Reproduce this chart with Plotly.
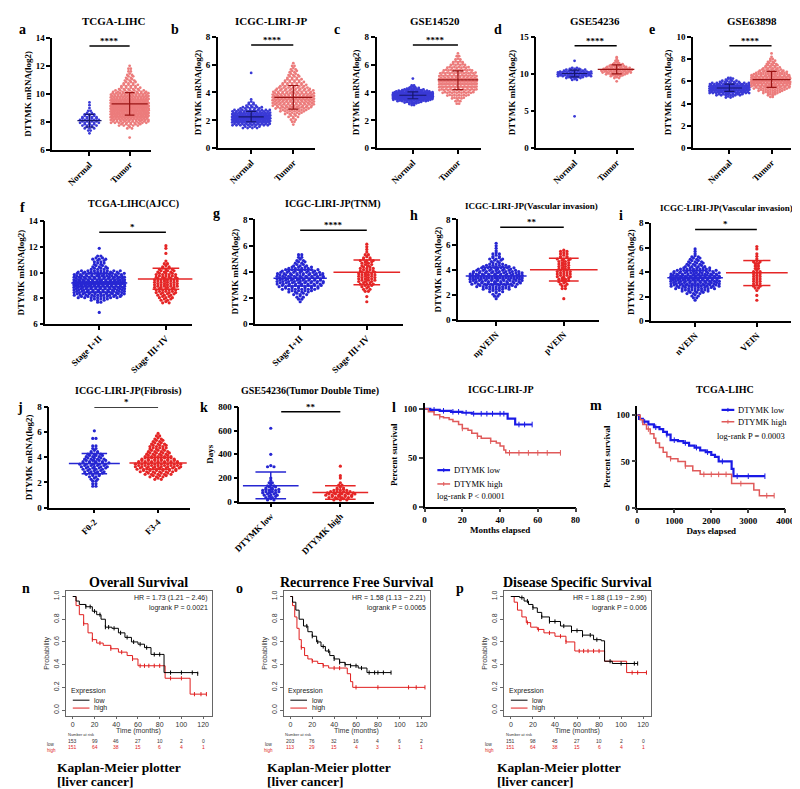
import plotly.graph_objects as go

W, H = 800, 789
SERIF = "Liberation Serif"
SANS = "Liberation Sans"

# ---------------- DATA: dot plots (value levels and number of samples per level) ----------------
a_cats = ["Normal", "Tumor"]
a_n_lv = [7.2, 7.4, 7.6, 7.8, 8.0, 8.2, 8.4, 8.6, 8.8, 9.0, 9.2, 9.4]
a_n_ct = [1, 2, 5, 7, 9, 9, 7, 5, 2, 1, 1, 1]
a_t_lv = [6.9, 7.6, 7.8, 8.0, 8.2, 8.4, 8.6, 8.8, 9.0, 9.2, 9.4, 9.6, 9.8, 10.0, 10.2, 10.4, 10.6, 10.8, 11.0, 11.2, 11.4, 11.6, 11.8, 12.0]
a_t_ct = [1, 3, 10, 20, 25, 30, 32, 34, 35, 35, 33, 30, 26, 22, 15, 10, 8, 6, 5, 4, 3, 2, 2, 1]
a_stats = [(8.1, 7.65, 8.55), (9.3, 8.5, 10.1)]

b_cats = ["Normal", "Tumor"]
b_n_lv = [1.5, 1.7, 1.9, 2.1, 2.3, 2.5, 2.7, 2.9, 3.1, 3.3, 3.5, 5.4]
b_n_ct = [8, 20, 32, 38, 38, 30, 20, 10, 5, 3, 1, 1]
b_t_lv = [1.7, 1.9, 2.1, 2.3, 2.5, 2.7, 2.9, 3.1, 3.3, 3.5, 3.7, 3.9, 4.1, 4.3, 4.5, 4.7, 4.9, 5.1, 5.3, 5.5, 5.7, 5.9, 6.1]
b_t_ct = [1, 2, 3, 5, 8, 12, 16, 20, 22, 24, 24, 22, 18, 15, 12, 10, 8, 6, 5, 4, 3, 2, 1]
b_stats = [(2.25, 1.9, 2.65), (3.65, 2.8, 4.5)]

c_cats = ["Normal", "Tumor"]
c_n_lv = [3.1, 3.2, 3.3, 3.4, 3.5, 3.6, 3.7, 3.8, 3.9, 4.0, 4.1, 4.2, 4.3, 4.4, 4.5, 5.0]
c_n_ct = [2, 4, 8, 14, 20, 26, 30, 30, 28, 22, 15, 10, 6, 3, 2, 1]
c_t_lv = [3.2, 3.4, 3.6, 3.8, 4.0, 4.2, 4.4, 4.6, 4.8, 5.0, 5.2, 5.4, 5.6, 5.8, 6.0, 6.2, 6.4, 6.6, 6.8]
c_t_ct = [2, 3, 6, 10, 14, 18, 20, 22, 22, 21, 19, 16, 13, 10, 7, 5, 3, 2, 1]
c_stats = [(3.8, 3.55, 4.05), (4.9, 4.2, 5.55)]

d_cats = ["Normal", "Tumor"]
d_n_lv = [4.3, 9.25, 9.5, 9.75, 10.0, 10.25, 10.5, 10.75, 11.75]
d_n_ct = [1, 3, 8, 15, 20, 16, 10, 5, 1]
d_t_lv = [9.0, 9.5, 9.75, 10.0, 10.25, 10.5, 10.75, 11.0, 11.25, 11.5, 11.75, 12.0, 12.25]
d_t_ct = [1, 3, 6, 10, 13, 14, 12, 9, 6, 3, 2, 1, 1]
d_stats = [(10.05, 9.6, 10.5), (10.6, 10.0, 11.2)]

e_cats = ["Normal", "Tumor"]
e_n_lv = [4.6, 4.8, 5.0, 5.2, 5.4, 5.6, 5.8, 6.0, 6.2, 6.3]
e_n_ct = [4, 12, 25, 32, 34, 28, 18, 9, 4, 2]
e_t_lv = [4.6, 4.8, 5.0, 5.2, 5.4, 5.6, 5.8, 6.0, 6.2, 6.4, 6.6, 6.8, 7.0, 7.2, 7.4, 7.6, 7.8, 8.0, 8.2, 8.5]
e_t_ct = [2, 4, 8, 12, 16, 20, 24, 26, 25, 22, 18, 14, 11, 8, 6, 5, 4, 2, 1, 1]
e_stats = [(5.4, 5.1, 5.75), (6.15, 5.45, 6.9)]

f_cats = ["Stage I+II", "Stage III+IV"]
f_1_lv = [6.9, 7.7, 7.9, 8.1, 8.3, 8.5, 8.7, 8.9, 9.1, 9.3, 9.5, 9.7, 9.9, 10.1, 10.3, 10.5, 10.7, 10.9, 11.1, 11.3, 11.9]
f_1_ct = [1, 2, 6, 14, 18, 20, 22, 24, 25, 25, 23, 21, 18, 14, 6, 5, 4, 4, 5, 2, 1]
f_2_lv = [7.7, 7.9, 8.1, 8.3, 8.5, 8.7, 8.9, 9.1, 9.3, 9.5, 9.7, 9.9, 10.1, 10.3, 10.5, 10.7, 10.9, 11.5, 11.9, 12.1]
f_2_ct = [3, 4, 5, 6, 7, 7, 8, 8, 8, 8, 7, 7, 6, 5, 3, 2, 1, 1, 1, 1]
f_stats = [(9.2, 8.45, 9.95), (9.5, 8.7, 10.35)]

g_cats = ["Stage I+II", "Stage III+IV"]
g_1_lv = [1.7, 1.9, 2.1, 2.3, 2.5, 2.7, 2.9, 3.1, 3.3, 3.5, 3.7, 3.9, 4.1, 4.3, 4.5, 4.7, 4.9, 5.1, 5.3]
g_1_ct = [1, 2, 3, 5, 8, 12, 14, 16, 17, 18, 17, 15, 12, 8, 5, 4, 3, 2, 2]
g_2_lv = [1.7, 2.1, 2.5, 2.7, 2.9, 3.1, 3.3, 3.5, 3.7, 3.9, 4.1, 4.3, 4.5, 4.7, 4.9, 5.1, 5.3, 5.5, 5.7, 5.9, 6.1]
g_2_ct = [1, 1, 2, 3, 4, 5, 6, 6, 6, 6, 5, 5, 4, 4, 5, 3, 2, 1, 1, 1, 1]
g_stats = [(3.5, 2.9, 4.15), (3.95, 3.0, 4.9)]

h_cats = ["npVEIN", "pVEIN"]
h_1_lv = [1.7, 1.9, 2.1, 2.3, 2.5, 2.7, 2.9, 3.1, 3.3, 3.5, 3.7, 3.9, 4.1, 4.3, 4.5, 4.7, 4.9, 5.1, 5.3, 5.5, 5.7, 5.9, 6.1]
h_1_ct = [1, 2, 3, 5, 9, 13, 16, 18, 20, 20, 18, 15, 12, 9, 5, 4, 5, 3, 3, 1, 1, 1, 1]
h_2_lv = [1.7, 2.5, 2.7, 2.9, 3.1, 3.3, 3.5, 3.7, 3.9, 4.1, 4.3, 4.5, 4.7, 4.9, 5.1, 5.3, 5.5]
h_2_ct = [1, 2, 2, 3, 4, 4, 5, 5, 5, 4, 4, 4, 4, 5, 3, 3, 3]
h_stats = [(3.5, 2.85, 4.2), (4.0, 3.1, 4.9)]

i_cats = ["nVEIN", "VEIN"]
i_1_lv = [1.7, 1.9, 2.1, 2.3, 2.5, 2.7, 2.9, 3.1, 3.3, 3.5, 3.7, 3.9, 4.1, 4.3, 4.5, 4.7, 4.9, 5.1, 5.3, 5.5, 5.7, 5.9]
i_1_ct = [1, 2, 3, 6, 9, 13, 17, 19, 21, 22, 21, 18, 14, 10, 7, 6, 5, 4, 3, 1, 1, 1]
i_2_lv = [1.7, 2.1, 2.5, 2.7, 2.9, 3.1, 3.3, 3.5, 3.7, 3.9, 4.1, 4.3, 4.5, 4.7, 4.9, 5.1, 5.3, 5.5, 5.9, 6.1]
i_2_ct = [1, 1, 1, 2, 3, 3, 3, 3, 3, 3, 3, 2, 2, 2, 3, 1, 1, 1, 1, 1]
i_stats = [(3.55, 2.95, 4.15), (3.95, 2.9, 4.95)]

j_cats = ["F0-2", "F3-4"]
j_1_lv = [1.7, 1.9, 2.1, 2.3, 2.5, 2.7, 2.9, 3.1, 3.3, 3.5, 3.7, 3.9, 4.1, 4.3, 4.5, 4.7, 4.9, 5.5, 6.1]
j_1_ct = [2, 2, 2, 3, 4, 6, 7, 8, 9, 10, 8, 7, 6, 5, 3, 2, 2, 2, 1]
j_2_lv = [2.3, 2.5, 2.7, 2.9, 3.1, 3.3, 3.5, 3.7, 3.9, 4.1, 4.3, 4.5, 4.7, 4.9, 5.1, 5.3, 5.5, 5.7, 5.9]
j_2_ct = [3, 6, 9, 12, 14, 15, 15, 13, 11, 9, 8, 7, 6, 6, 5, 4, 3, 2, 1]
j_stats = [(3.5, 2.7, 4.3), (3.55, 3.05, 4.0)]

k_cats = ["DTYMK low", "DTYMK high"]
k_1_lv = [20, 40, 60, 80, 100, 120, 140, 160, 180, 200, 300, 400, 620]
k_1_ct = [3, 4, 5, 6, 6, 4, 3, 2, 1, 1, 3, 1, 1]
k_2_lv = [20, 40, 60, 80, 100, 120, 140, 160, 200, 220, 300]
k_2_ct = [5, 8, 10, 9, 5, 3, 2, 1, 1, 1, 1]
k_stats = [(135, 25, 250), (78, 20, 135)]

# ---------------- DATA: Kaplan-Meier curves ----------------
l_low_t = [0, 3, 8, 14, 20, 25, 43, 44, 47, 48, 57]
l_low_s = [100, 99, 98, 97, 96, 95, 95, 90, 90, 84, 84]
l_low_c = [5, 10, 15, 18, 22, 26, 30, 33, 36, 40, 42, 50, 53, 57]
l_high_t = [0, 2, 5, 8, 10, 13, 15, 18, 20, 23, 25, 28, 30, 35, 38, 40, 42, 43, 72]
l_high_s = [100, 97, 94, 92, 91, 89, 87, 84, 80, 78, 75, 72, 70, 67, 65, 62, 58, 55, 55]
l_high_c = [8, 20, 28, 35, 45, 50, 55, 60, 65, 72]

m_low_t = [0, 50, 150, 300, 450, 600, 700, 800, 900, 1100, 1250, 1400, 1550, 1700, 1850, 2000, 2100, 2200, 2500, 2550, 2600, 3450]
m_low_s = [100, 96, 93, 90, 87, 85, 82, 79, 73, 72, 70, 67, 65, 62, 60, 57, 55, 50, 50, 42, 34, 34]
m_low_c = [200, 500, 800, 1000, 1300, 1600, 1900, 2300, 2700, 3000, 3450]
m_high_t = [0, 80, 150, 250, 350, 450, 500, 600, 700, 800, 900, 1100, 1300, 1500, 1700, 2500, 2550, 3050, 3150, 3300, 3700]
m_high_s = [100, 95, 90, 85, 80, 75, 70, 65, 60, 55, 53, 50, 45, 40, 36, 36, 26, 26, 19, 13, 13]
m_high_c = [300, 900, 1300, 1800, 2000, 2200, 2400, 2800, 3500, 3700]

n_low_t = [0, 3, 6, 12, 18, 22, 26, 30, 36, 42, 48, 54, 60, 66, 72, 82, 84, 115]
n_low_s = [1.0, 0.96, 0.93, 0.91, 0.87, 0.84, 0.80, 0.73, 0.72, 0.68, 0.64, 0.60, 0.58, 0.55, 0.49, 0.49, 0.33, 0.32]
n_low_c = [12, 16, 20, 25, 30, 33, 38, 44, 50, 56, 62, 68, 75, 80, 90, 100, 110, 115]
n_high_t = [0, 3, 6, 10, 14, 18, 22, 28, 35, 42, 50, 55, 60, 82, 85, 106, 108, 123]
n_high_s = [1.0, 0.92, 0.84, 0.76, 0.68, 0.62, 0.59, 0.57, 0.54, 0.51, 0.48, 0.45, 0.39, 0.39, 0.28, 0.28, 0.14, 0.14]
n_high_c = [10, 18, 25, 35, 45, 55, 62, 66, 70, 75, 80, 90, 100, 112, 118, 123]

o_low_t = [0, 2, 5, 8, 12, 16, 20, 24, 28, 32, 36, 40, 45, 50, 55, 62, 70, 92]
o_low_s = [1.0, 0.95, 0.88, 0.80, 0.74, 0.69, 0.65, 0.60, 0.56, 0.52, 0.48, 0.45, 0.42, 0.40, 0.39, 0.37, 0.33, 0.33]
o_low_c = [15, 20, 25, 30, 35, 40, 45, 50, 55, 60, 65, 72, 77, 80, 85, 92]
o_high_t = [0, 2, 4, 6, 8, 10, 13, 16, 20, 25, 30, 35, 48, 52, 55, 57, 123]
o_high_s = [1.0, 0.92, 0.82, 0.72, 0.62, 0.55, 0.48, 0.45, 0.43, 0.41, 0.39, 0.37, 0.37, 0.32, 0.25, 0.20, 0.20]
o_high_c = [10, 20, 30, 40, 45, 60, 80, 108, 115, 123]

p_low_t = [0, 8, 12, 16, 20, 24, 28, 35, 45, 55, 65, 75, 82, 85, 92, 115]
p_low_s = [1.0, 0.99, 0.96, 0.93, 0.90, 0.86, 0.82, 0.78, 0.74, 0.70, 0.66, 0.62, 0.61, 0.43, 0.41, 0.41]
p_low_c = [10, 15, 20, 28, 35, 40, 48, 55, 60, 65, 72, 78, 90, 100, 112, 115]
p_high_t = [0, 3, 6, 10, 14, 18, 24, 30, 40, 50, 58, 85, 105, 123]
p_high_s = [1.0, 0.95, 0.88, 0.82, 0.77, 0.73, 0.71, 0.68, 0.65, 0.60, 0.52, 0.43, 0.33, 0.33]
p_high_c = [15, 25, 35, 45, 50, 62, 66, 70, 75, 80, 110, 115, 123]

km_ticks = [0, 20, 40, 60, 80, 100, 120]
n_risk_low = [153, 99, 46, 27, 10, 2, 0]
n_risk_high = [151, 64, 38, 15, 6, 4, 1]
o_risk_low = [203, 76, 32, 16, 4, 6, 2]
o_risk_high = [113, 29, 15, 4, 3, 1, 1]
p_risk_low = [151, 98, 45, 27, 10, 2, 0]
p_risk_high = [151, 64, 38, 15, 6, 4, 1]

# ---------------- helpers ----------------
fig = go.Figure()
layout = {}
shapes = []
anns = []
count = [0]


def px_x(x):
    return x / W


def px_y(y):
    return 1 - y / H


def new_axes(L, R, T, B, xr, yr, xopt, yopt):
    count[0] += 1
    s = '' if count[0] == 1 else str(count[0])
    layout['xaxis' + s] = dict(domain=[L / W, R / W], range=xr, anchor='y' + s, **xopt)
    layout['yaxis' + s] = dict(domain=[1 - B / H, 1 - T / H], range=yr, anchor='x' + s, **yopt)
    return 'x' + s, 'y' + s


def txt(x, y, s, size, color='black', family=SERIF, bold=True, xanchor='center', yanchor='middle', angle=0):
    anns.append(dict(x=px_x(x), y=px_y(y), xref='paper', yref='paper', text=s, showarrow=False,
                     xanchor=xanchor, yanchor=yanchor, textangle=angle, borderpad=0,
                     font=dict(family=family, size=size, color=color, weight='bold' if bold else 'normal')))


def bold_font(size=9):
    return dict(family=SERIF, size=size, color='black', weight='bold')


def swarm(levels, counts, center, dx, maxw, step, unit):
    xs, ys = [], []
    for lv, c in zip(levels, counts):
        d = min(dx, maxw / max(c, 1)) / unit
        for i in range(c):
            xs.append(center + (i - (c - 1) / 2) * d)
            off = ((i % 2) - 0.5) * step * 0.5 if c > 2 else 0
            ys.append(lv + off)
    return xs, ys


def dot_panel(box, yr, ytick, ytitle, cats, groups, stats, colors, ecolors, msize, dx, maxws, step,
              sig_y, stars, mean_hw, cap_hw, ewidth=1.5, sig_x0=0.0):
    L, R, T, B, c0, c1 = box
    unit = c1 - c0
    xr = [(L - c0) / unit, (R - c0) / unit]
    xo = dict(showline=True, linecolor='black', linewidth=1.5, ticks='outside', ticklen=4, tickwidth=1.5,
              tickcolor='black', tickvals=[0, 1], ticktext=cats, tickangle=-45, tickfont=bold_font(9),
              showgrid=False, zeroline=False, fixedrange=True)
    yo = dict(showline=True, linecolor='black', linewidth=1.5, ticks='outside', ticklen=4, tickwidth=1.5,
              tickcolor='black', tickvals=ytick, tickfont=bold_font(9), showgrid=False, zeroline=False,
              title=dict(text=ytitle, font=bold_font(9), standoff=3), fixedrange=True)
    xa, ya = new_axes(L, R, T, B, xr, yr, xo, yo)
    for gi, (lv, ct) in enumerate(groups):
        xs, ys = swarm(lv, ct, gi, dx, maxws[gi], step, unit)
        fig.add_trace(go.Scatter(x=xs, y=ys, mode='markers', xaxis=xa, yaxis=ya, showlegend=False,
                                 hoverinfo='skip', cliponaxis=False,
                                 marker=dict(size=msize, color=colors[gi], line=dict(width=0))))
    for gi, (m, lo, hi) in enumerate(stats):
        hw, cw = mean_hw[gi], cap_hw[gi]
        ex = [gi - hw, gi + hw, None, gi, gi, None, gi - cw, gi + cw, None, gi - cw, gi + cw]
        ey = [m, m, None, lo, hi, None, lo, lo, None, hi, hi]
        fig.add_trace(go.Scatter(x=ex, y=ey, mode='lines', xaxis=xa, yaxis=ya, showlegend=False,
                                 hoverinfo='skip', line=dict(color=ecolors[gi], width=ewidth)))
    shapes.append(dict(type='line', xref=xa, yref=ya, x0=sig_x0, x1=1, y0=sig_y, y1=sig_y,
                       line=dict(color='black', width=1.5)))
    anns.append(dict(x=(sig_x0 + 1) / 2, y=sig_y, xref=xa, yref=ya, text=stars, showarrow=False,
                     yanchor='bottom', yshift=-2, font=bold_font(9)))


def step_val(ts, ss, t):
    v = ss[0]
    for ti, si in zip(ts, ss):
        if ti <= t:
            v = si
    return v


def km_curve(xa, ya, ts, ss, cs, color, width, csize):
    fig.add_trace(go.Scatter(x=ts, y=ss, mode='lines', line=dict(shape='hv', color=color, width=width),
                             xaxis=xa, yaxis=ya, showlegend=False, hoverinfo='skip'))
    fig.add_trace(go.Scatter(x=cs, y=[step_val(ts, ss, c) for c in cs], mode='markers',
                             marker=dict(symbol='line-ns-open', size=csize, color=color,
                                         line=dict(color=color, width=1)),
                             xaxis=xa, yaxis=ya, showlegend=False, hoverinfo='skip', cliponaxis=False))


# ---------------- row 1 ----------------
YT = '<b>DTYMK mRNA(log2)</b>'
N_COL, T_COL = '#3a3ad6', '#ec7c7c'
N_E, T_E = '#16166e', '#9a1414'
r1 = dict(colors=[N_COL, T_COL], ecolors=[N_E, T_E], msize=2.8, dx=2.4, mean_hw=[0.3, 0.45],
          cap_hw=[0.12, 0.12], ewidth=1.2)

dot_panel((39, 140, 25, 139, 77, 118), [6, 14], [6, 8, 10, 12, 14], YT, a_cats,
          [(a_n_lv, a_n_ct), (a_t_lv, a_t_ct)], a_stats, maxws=[26, 40], step=0.2, sig_y=13.4, stars='****', **r1)
dot_panel((208, 307, 24, 137, 242, 285), [0, 8], [0, 2, 4, 6, 8], YT, b_cats,
          [(b_n_lv, b_n_ct), (b_t_lv, b_t_ct)], b_stats, maxws=[40, 44], step=0.2, sig_y=7.4, stars='****', **r1)
dot_panel((370, 477, 24, 137, 407, 453), [0, 8], [0, 2, 4, 6, 8], YT, c_cats,
          [(c_n_lv, c_n_ct), (c_t_lv, c_t_ct)], c_stats, maxws=[42, 40], step=0.1, sig_y=7.4, stars='****', **r1)
dot_panel((533, 633, 24, 137, 572, 615), [0, 15], [0, 5, 10, 15], YT, d_cats,
          [(d_n_lv, d_n_ct), (d_t_lv, d_t_ct)], d_stats, maxws=[36, 36], step=0.25, sig_y=13.8, stars='****', **r1)
dot_panel((693, 793, 24, 137, 730, 773), [0, 10], [0, 2, 4, 6, 8, 10], YT, e_cats,
          [(e_n_lv, e_n_ct), (e_t_lv, e_t_ct)], e_stats, maxws=[42, 43], step=0.2, sig_y=9.2, stars='****', **r1)

# ---------------- row 2 & 3 dot plots ----------------
B_COL, R_COL = '#2626d2', '#e52626'
r2 = dict(colors=[B_COL, R_COL], ecolors=[B_COL, R_COL], msize=3.2, dx=3.3)
dot_panel((32, 182, 211, 315, 87, 155), [6, 14], [6, 8, 10, 12, 14], YT, f_cats,
          [(f_1_lv, f_1_ct), (f_2_lv, f_2_ct)], f_stats, maxws=[54, 46], step=0.2, sig_y=13.15, stars='*',
          mean_hw=[0.42, 0.42], cap_hw=[0.2, 0.2], **r2)
dot_panel((246, 397, 209, 315, 292, 360), [0, 8], [0, 2, 4, 6, 8], YT, g_cats,
          [(g_1_lv, g_1_ct), (g_2_lv, g_2_ct)], g_stats, maxws=[50, 40], step=0.2, sig_y=7.17, stars='****',
          mean_hw=[0.4, 0.5], cap_hw=[0.2, 0.2], **r2)
dot_panel((453, 597, 209, 311, 492, 561), [0, 8], [0, 2, 4, 6, 8], YT, h_cats,
          [(h_1_lv, h_1_ct), (h_2_lv, h_2_ct)], h_stats, maxws=[56, 44], step=0.2, sig_y=7.37, stars='**',
          mean_hw=[0.45, 0.5], cap_hw=[0.2, 0.22], sig_x0=0.06, **r2)
dot_panel((650, 793, 213, 312, 695, 758), [0, 8], [0, 2, 4, 6, 8], YT, i_cats,
          [(i_1_lv, i_1_ct), (i_2_lv, i_2_ct)], i_stats, maxws=[52, 40], step=0.2, sig_y=7.5, stars='*',
          mean_hw=[0.45, 0.5], cap_hw=[0.2, 0.22], **r2)
dot_panel((36, 180, 399, 501, 82, 147), [0, 8], [0, 2, 4, 6, 8], YT, j_cats,
          [(j_1_lv, j_1_ct), (j_2_lv, j_2_ct)], j_stats, maxws=[44, 50], step=0.2, sig_y=8.0, stars='*',
          mean_hw=[0.4, 0.45], cap_hw=[0.2, 0.2], **r2)
dot_panel((230, 367, 399, 495, 262, 333), [0, 800], [0, 200, 400, 600, 800], '<b>Days</b>', k_cats,
          [(k_1_lv, k_1_ct), (k_2_lv, k_2_ct)], k_stats, maxws=[46, 40], step=20, sig_y=760, stars='**',
          mean_hw=[0.4, 0.4], cap_hw=[0.22, 0.22], sig_x0=0.15, **r2)

# ---------------- l & m (GraphPad KM) ----------------
km_x = dict(showline=True, linecolor='black', linewidth=1.5, ticks='outside', ticklen=4, tickwidth=1.5,
            tickfont=bold_font(9), showgrid=False, zeroline=False)
km_y = dict(showline=True, linecolor='black', linewidth=1.5, ticks='outside', ticklen=4, tickwidth=1.5,
            tickfont=bold_font(9), showgrid=False, zeroline=False, tickvals=[0, 50, 100])
xa, ya = new_axes(419, 573, 395, 500, [0, 80], [0, 106],
                  dict(km_x, tickvals=[0, 20, 40, 60, 80], title=dict(text='<b>Months elapsed</b>', font=bold_font(9), standoff=2)),
                  dict(km_y, title=dict(text='<b>Percent survival</b>', font=bold_font(9), standoff=4)))
KB, KR = '#1a1ae6', '#e05a5a'
km_curve(xa, ya, l_low_t, l_low_s, l_low_c, KB, 2.2, 4)
km_curve(xa, ya, l_high_t, l_high_s, l_high_c, KR, 1.5, 4)
xa, ya = new_axes(636, 787, 398, 501, [0, 4000], [0, 110],
                  dict(km_x, tickvals=[0, 1000, 2000, 3000, 4000], title=dict(text='<b>Days elapsed</b>', font=bold_font(9), standoff=2)),
                  dict(km_y, title=dict(text='<b>Percent survival</b>', font=bold_font(9), standoff=4)))
km_curve(xa, ya, m_low_t, m_low_s, m_low_c, KB, 2.2, 4)
km_curve(xa, ya, m_high_t, m_high_s, m_high_c, KR, 1.5, 4)

# legends for l and m
for (x0, y0, col, lab, w) in [(432, 463, KB, 'DTYMK low', 2.2), (432, 477, KR, 'DTYMK high', 1.5),
                              (722, 402, KB, 'DTYMK low', 2.2), (722, 414, KR, 'DTYMK high', 1.5)]:
    shapes.append(dict(type='line', xref='paper', yref='paper', x0=px_x(x0), x1=px_x(x0 + 13),
                       y0=px_y(y0), y1=px_y(y0), line=dict(color=col, width=w)))
    shapes.append(dict(type='line', xref='paper', yref='paper', x0=px_x(x0 + 6.5), x1=px_x(x0 + 6.5),
                       y0=px_y(y0 - 2), y1=px_y(y0 + 2), line=dict(color=col, width=1)))
    txt(x0 + 16, y0, lab, 8.5, bold=False, xanchor='left')
txt(431, 489, 'log-rank P < 0.0001', 8.5, bold=False, xanchor='left')
txt(716, 428, 'log-rank P = 0.0003', 8.5, bold=False, xanchor='left')

# ---------------- n, o, p (KM plotter) ----------------
GR = '#666666'
TX = '#333333'
kp_x = dict(showline=True, mirror=True, linecolor=GR, linewidth=0.8, ticks='outside', ticklen=2, tickwidth=0.8,
            tickcolor=GR, tickvals=km_ticks, tickfont=dict(family=SANS, size=7, color=TX),
            showgrid=False, zeroline=False)
kp_y = dict(showline=True, mirror=True, linecolor=GR, linewidth=0.8, ticks='outside', ticklen=3, tickwidth=0.8,
            tickcolor=GR, tickvals=[0, 0.2, 0.4, 0.6, 0.8, 1.0], ticktext=['0.0', '0.2', '0.4', '0.6', '0.8', '1.0'],
            tickangle=-90, tickfont=dict(family=SANS, size=7, color=TX), showgrid=False, zeroline=False,
            title=dict(text='Probability', font=dict(family=SANS, size=7, color=TX), standoff=2))

kp_specs = [
    (53, 202, 60, 193, 'Overall Survival', 'HR = 1.73 (1.21 − 2.46)', 'logrank P = 0.0021',
     (n_low_t, n_low_s, n_low_c), (n_high_t, n_high_s, n_high_c), n_risk_low, n_risk_high, 'n', 12, 43),
    (275, 424, 282, 416, 'Recurrence Free Survival', 'HR = 1.58 (1.13 − 2.21)', 'logrank P = 0.0065',
     (o_low_t, o_low_s, o_low_c), (o_high_t, o_high_s, o_high_c), o_risk_low, o_risk_high, 'o', 230, 257),
    (500, 650, 507, 642, 'Disease Specific Survival', 'HR = 1.88 (1.19 − 2.96)', 'logrank P = 0.006',
     (p_low_t, p_low_s, p_low_c), (p_high_t, p_high_s, p_high_c), p_risk_low, p_risk_high, 'p', 455, 492),
]
KRED = '#e01e1e'
for (L, R, z0, z120, title, hr1, hr2, lowc, highc, rl, rh, letter, lx, capx) in kp_specs:
    u = (z120 - z0) / 120
    xr = [(L - z0) / u, (R - z0) / u]
    yr = [(706 - 712) / 115, (706 - 585) / 115]
    xa, ya = new_axes(L, R, 585, 712, xr, yr, kp_x, kp_y)
    km_curve(xa, ya, *highc, KRED, 1.0, 3)
    km_curve(xa, ya, *lowc, 'black', 1.0, 3)
    txt((L + R) / 2, 577, title, 14)
    txt(lx, 583, letter, 14)
    txt(R - 3, 593, hr1, 7, family=SANS, bold=False, xanchor='right', color='#222222')
    txt(R - 3, 603, hr2, 7, family=SANS, bold=False, xanchor='right', color='#222222')
    txt(L + 4, 687, 'Expression', 7, family=SANS, bold=False, xanchor='left', color='#222222')
    for yy, col, lab in [(696, 'black', 'low'), (704, KRED, 'high')]:
        shapes.append(dict(type='line', xref='paper', yref='paper', x0=px_x(L + 7), x1=px_x(L + 24),
                           y0=px_y(yy), y1=px_y(yy), line=dict(color=col, width=1)))
        txt(L + 28, yy, lab, 7, family=SANS, bold=False, xanchor='left', color='#222222')
    txt((L + R) / 2, 727, 'Time (months)', 7, family=SANS, bold=False, color=TX)
    txt(z0 - 6, 731, 'Number at risk', 4, family=SANS, bold=False, xanchor='left', color=TX)
    txt(L - 15, 741, 'low', 4.5, family=SANS, bold=False, color=TX)
    txt(L - 15, 747, 'high', 4.5, family=SANS, bold=False, color=KRED)
    for tv, a_, b_ in zip(km_ticks, rl, rh):
        anns.append(dict(x=tv, y=px_y(741), xref=xa, yref='paper', text=str(a_), showarrow=False,
                         borderpad=0, font=dict(family=SANS, size=5, color=TX)))
        anns.append(dict(x=tv, y=px_y(747), xref=xa, yref='paper', text=str(b_), showarrow=False,
                         borderpad=0, font=dict(family=SANS, size=5, color=KRED)))
    txt(capx, 764, 'Kaplan-Meier plotter', 13.5, xanchor='left')
    txt(capx, 778, '[liver cancer]', 13.5, xanchor='left')

# ---------------- titles and panel letters ----------------
for x, y, s, sz in [(102, 8, 'TCGA-LIHC', 11), (262, 8, 'ICGC-LIRI-JP', 11), (430, 8, 'GSE14520', 11),
                    (593, 8, 'GSE54236', 11), (753, 8, 'GSE63898', 11),
                    (122, 193, 'TCGA-LIHC(AJCC)', 10), (326, 193, 'ICGC-LIRI-JP(TNM)', 10),
                    (528, 195, 'ICGC-LIRI-JP(Vascular invasion)', 9), (727, 197, 'ICGC-LIRI-JP(Vascular invasion)', 9),
                    (116, 383, 'ICGC-LIRI-JP(Fibrosis)', 10), (302, 383, 'GSE54236(Tumor Double Time)', 10),
                    (497, 381, 'ICGC-LIRI-JP', 10), (725, 381, 'TCGA-LIHC', 10)]:
    txt(x, y, s, sz)
for x, y, s in [(9, 17, 'a'), (164, 17, 'b'), (330, 17, 'c'), (494, 17, 'd'), (651, 17, 'e'),
                (9, 197, 'f'), (207, 203, 'g'), (408, 205, 'h'), (619, 205, 'i'),
                (6, 400, 'j'), (194, 400, 'k'), (388, 400, 'l'), (594, 398, 'm')]:
    txt(x, y, s, 14)

fig.update_layout(width=W, height=H, margin=dict(l=0, r=0, t=0, b=0), plot_bgcolor='white',
                  paper_bgcolor='white', showlegend=False, shapes=shapes, annotations=anns, **layout)
fig.write_html("out.html")
